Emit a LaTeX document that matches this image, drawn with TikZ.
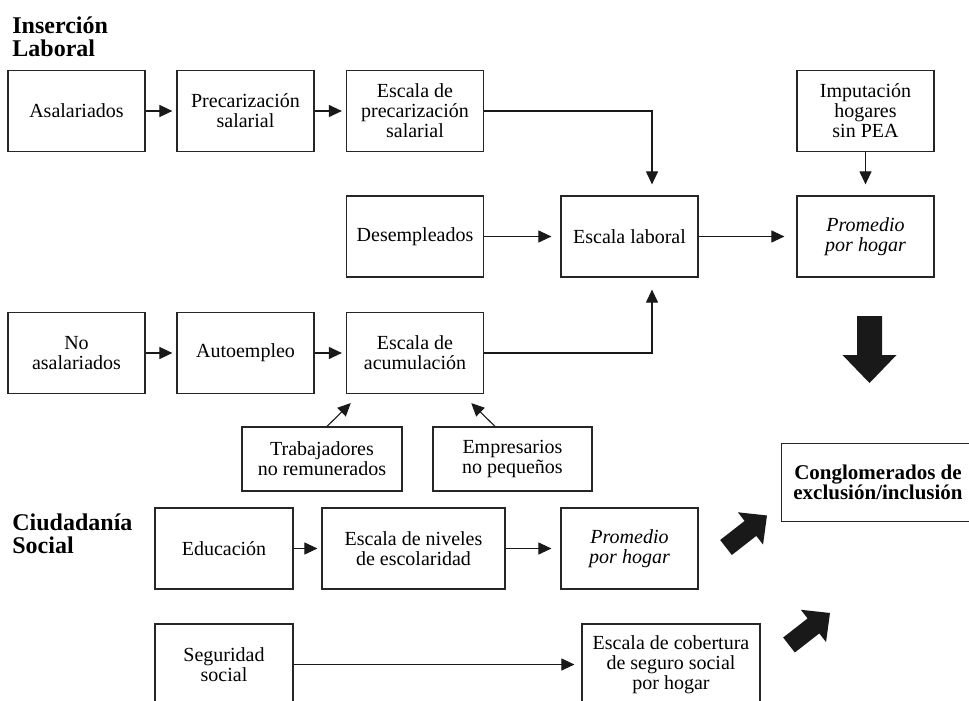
\documentclass[tikz,border=0pt]{standalone}
\usepackage{fontspec}
\setmainfont{Liberation Serif}
\usepackage{tikz}
\usetikzlibrary{arrows.meta}
\usetikzlibrary{calc}
\tikzset{caja/.style={draw=black!85,line width=0.6pt,align=center,inner sep=1pt,minimum width=68.5pt,minimum height=40.5pt,font=\fontsize{10}{10}\selectfont},
flecha/.style={draw=black!90,line width=0.55pt,-{Triangle[length=6.5pt,width=6pt]}},
titulo/.style={align=left,inner sep=0pt,anchor=north west,font=\fontsize{12}{11.5}\selectfont\bfseries},
bloque/.style={fill=black!90}}

\begin{document}
\begin{tikzpicture}[x=0.5pt,y=-0.5pt]
\useasboundingbox (0,0) rectangle (969,701);
\clip (0,0) rectangle (969,701);
\node[titulo] (inser) at (12,16) {Inserción\\Laboral};
\node[titulo] (ciuda) at (12,513) {Ciudadanía\\Social};
% primera fila
\node[caja] (asal) at (76.5,111) {Asalariados};
\node[caja] (prec) at (245.5,111) {Precarización\\salarial};
\node[caja] (escprec) at (415,111) {Escala de\\precarización\\salarial};
\node[caja] (imput) at (865.5,111) {Imputación\\hogares\\sin PEA};
% segunda fila
\node[caja] (desemp) at (415,236.5) {Desempleados};
\node[caja] (esclab) at (629.5,236.5) {Escala laboral};
\node[caja] (prom1) at (865.5,236.5) {\itshape Promedio\\\itshape por hogar};
% tercera fila
\node[caja] (noasal) at (76.5,353) {No\\asalariados};
\node[caja] (autoem) at (245.5,353) {Autoempleo};
\node[caja] (acum) at (415,353) {Escala de\\acumulación};
\node[caja,minimum width=80pt,minimum height=32pt] (trab) at (322,459) {Trabajadores\\no remunerados};
\node[caja,minimum width=79.5pt,minimum height=32pt] (empres) at (512.5,459) {Empresarios\\no pequeños};
% ciudadania
\node[caja,minimum width=69pt] (educ) at (224,548.5) {Educación};
\node[caja,minimum width=91.5pt] (nivel) at (413.5,548.5) {Escala de niveles\\de escolaridad};
\node[caja] (prom2) at (629.5,548.5) {\itshape Promedio\\\itshape por hogar};
\node[caja,minimum width=69pt] (segur) at (224,664.5) {Seguridad\\social};
\node[caja,minimum width=89pt] (cobert) at (671,664.5) {Escala de cobertura\\de seguro social\\por hogar};
\node[caja,draw=none,minimum width=96pt,minimum height=38.5pt,font=\fontsize{10.5}{10}\selectfont\bfseries] (congl) at (878,482.5) {Conglomerados de\\exclusión/inclusión};
\draw[black!85,line width=0.6pt] ([xshift=20pt]congl.north east) -- (congl.north west) -- (congl.south west) -- ([xshift=20pt]congl.south east);
% conectores
\draw[flecha,shorten >=2pt] (asal) -- (prec);
\draw[flecha,shorten >=2pt] (prec) -- (escprec);
\draw[flecha,shorten >=5.5pt] (escprec.east) -| ([xshift=11.25pt]esclab.north);
\draw[flecha,shorten >=5.5pt] (imput) -- (prom1);
\draw[flecha,shorten >=4.5pt] (desemp) -- (esclab);
\draw[flecha,shorten >=6pt] (esclab) -- (prom1);
\draw[flecha,shorten >=2pt] (noasal) -- (autoem);
\draw[flecha,shorten >=2pt] (autoem) -- (acum);
\draw[flecha,shorten >=6pt] (acum.east) -| ([xshift=11.25pt]esclab.south);
\draw[flecha,shorten >=6.4pt] ([xshift=2.5pt]trab.north) -- ([xshift=7pt]acum.south west);
\draw[flecha,shorten >=6.4pt] ([xshift=-8.75pt]empres.north) -- ([xshift=-11pt]acum.south east);
\draw[flecha,shorten >=2pt] (educ) -- (nivel);
\draw[flecha,shorten >=4.5pt] (nivel) -- (prom2);
\draw[flecha,shorten >=3.5pt] (segur) -- (cobert);
% flechas gruesas
\fill[bloque,shift={(869.5,316)},rotate=-90] (0,-12.5) -- (39,-12.5) -- (39,-27) -- (67,0) -- (39,27) -- (39,12.5) -- (0,12.5) -- cycle;
\fill[bloque,shift={(726,547.5)},rotate=38] (0,-9.5) -- (31,-9.5) -- (31,-20.5) -- (52,0) -- (31,20.5) -- (31,9.5) -- (0,9.5) -- cycle;
\fill[bloque,shift={(789,645)},rotate=38] (0,-9.5) -- (31,-9.5) -- (31,-20.5) -- (52,0) -- (31,20.5) -- (31,9.5) -- (0,9.5) -- cycle;
\end{tikzpicture}
\end{document}
